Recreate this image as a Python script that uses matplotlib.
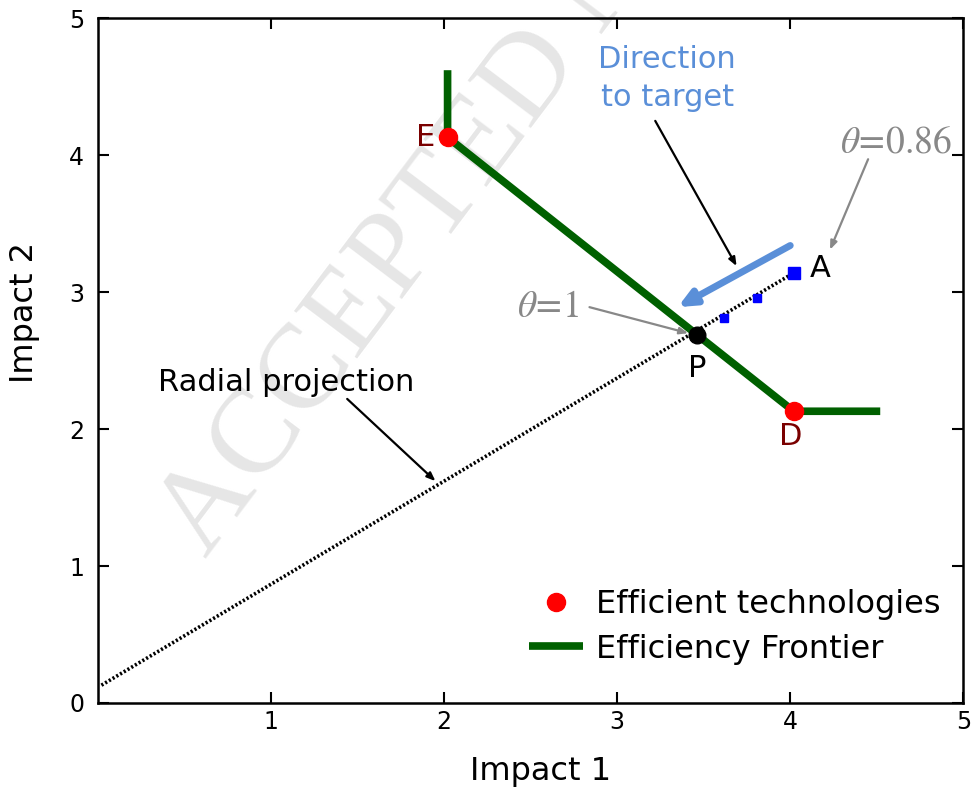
import numpy as np
import matplotlib.pyplot as plt

# efficient technologies and frontier
eff_x = [2.02, 4.02]
eff_y = [4.13, 2.13]
eff_names = ['E', 'D']
front_x = [2.02, 2.02, 4.02, 4.52]
front_y = [4.62, 4.13, 2.13, 2.13]

# radial projection of A onto the frontier
ray_x = [0.02, 4.02]
ray_y = [0.13, 3.14]
p_x, p_y = 3.46, 2.69
a_x, a_y = 4.02, 3.14
mid_x = [3.62, 3.81]
mid_y = [2.81, 2.96]

xticks = [1, 2, 3, 4, 5]
yticks = [0, 1, 2, 3, 4, 5]

plt.rcParams['font.family'] = ['DejaVu Sans']
fig = plt.figure(figsize=(9.75, 7.89), dpi=100)
ax = fig.add_axes([0.1005, 0.109, 0.8875, 0.868])

# watermark
ax.text(0.211, 0.291, 'ACCEPTED MANUSCRIPT', transform=fig.transFigure,
        rotation=53, rotation_mode='anchor', ha='left', va='baseline',
        fontsize=87, family='Liberation Serif', color='#e6e6e6', zorder=0)

ax.plot(ray_x, ray_y, color='black', ls=(0, (0.6, 0.6)), lw=2.6, zorder=2)
fr, = ax.plot(front_x, front_y, color='#006000', lw=5.5, zorder=3,
              label='Efficiency Frontier', solid_capstyle='butt')
et, = ax.plot(eff_x, eff_y, 'o', color='red', ms=13, zorder=5,
              label='Efficient technologies')
ax.plot(mid_x, mid_y, 's', color='blue', ms=5.5, zorder=4)
ax.plot([a_x], [a_y], 's', color='blue', ms=9, zorder=4)
ax.plot([p_x], [p_y], 'o', color='black', ms=12, zorder=5)

lbl = dict(fontsize=22)
ax.text(eff_x[0] - 0.07, eff_y[0], eff_names[0], color='#7a0000',
        ha='right', va='center', **lbl)
ax.text(eff_x[1] - 0.02, eff_y[1] - 0.08, eff_names[1], color='#7a0000',
        ha='center', va='top', **lbl)
ax.text(p_x, p_y - 0.14, 'P', color='black', ha='center', va='top', **lbl)
ax.text(a_x + 0.09, a_y + 0.03, 'A', color='black', ha='left', va='center', **lbl)

# annotations
ax.annotate('', xy=(3.35, 2.89), xytext=(4.0, 3.34),
            arrowprops=dict(arrowstyle='-|>,head_length=1.0,head_width=0.45',
                            color='#5a8fd8', lw=5, shrinkA=0, shrinkB=0),
            zorder=6)
ax.text(3.29, 4.56, 'Direction\nto target', color='#5a8fd8', fontsize=22,
        ha='center', va='center', linespacing=1.38)
ax.annotate('', xy=(3.69, 3.19), xytext=(3.22, 4.25),
            arrowprops=dict(arrowstyle='-|>,head_length=0.5,head_width=0.2',
                            color='black', lw=1.6, shrinkA=0, shrinkB=0))

ax.text(4.61, 4.09, r'$\theta\!=\!0.86$', color='#888888', fontsize=27,
        ha='center', va='center', math_fontfamily='stix')
ax.annotate('', xy=(4.23, 3.31), xytext=(4.45, 3.97),
            arrowprops=dict(arrowstyle='-|>,head_length=0.5,head_width=0.2',
                            color='#888888', lw=1.6, shrinkA=0, shrinkB=0))
ax.text(2.6, 2.89, r'$\theta\!=\!1$', color='#888888', fontsize=27,
        ha='center', va='center', math_fontfamily='stix')
ax.annotate('', xy=(3.41, 2.7), xytext=(2.84, 2.89),
            arrowprops=dict(arrowstyle='-|>,head_length=0.5,head_width=0.2',
                            color='#888888', lw=1.6, shrinkA=0, shrinkB=0))

ax.text(1.09, 2.34, 'Radial projection', fontsize=22, ha='center', va='center')
ax.annotate('', xy=(1.95, 1.62), xytext=(1.44, 2.22),
            arrowprops=dict(arrowstyle='-|>,head_length=0.5,head_width=0.2',
                            color='black', lw=1.6, shrinkA=0, shrinkB=0))

ax.set_xlim(0, 5)
ax.set_ylim(0, 5)
ax.set_xticks(xticks)
ax.set_yticks(yticks)
ax.tick_params(direction='in', top=True, right=True, length=8, width=1.5,
               labelsize=17, pad=10)
ax.tick_params(axis='x', pad=5)
for s in ax.spines.values():
    s.set_linewidth(1.8)
ax.set_xlabel('Impact 1', fontsize=23)
ax.set_ylabel('Impact 2', fontsize=23)
ax.xaxis.set_label_coords(0.511, -0.078)
ax.yaxis.set_label_coords(-0.067, 0.57)

ax.legend(handles=[et, fr], loc='lower right', bbox_to_anchor=(1.007, 0.014),
          frameon=False, fontsize=23, handlelength=1.7, handletextpad=0.4,
          labelspacing=0.42)

fig.savefig('out.png', dpi=100)
